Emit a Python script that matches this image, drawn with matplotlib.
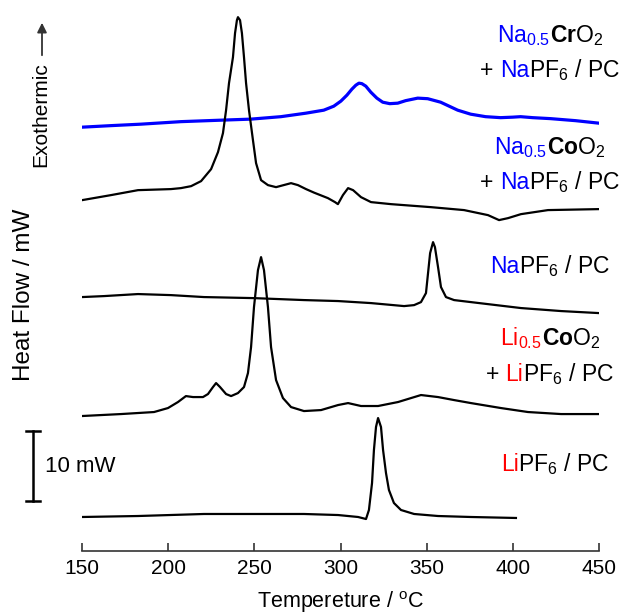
import matplotlib
matplotlib.use("Agg")
import matplotlib.pyplot as plt
from matplotlib.offsetbox import TextArea, HPacker, VPacker, AnnotationBbox

plt.rcParams['font.family'] = ['Liberation Sans', 'DejaVu Sans']
plt.rcParams['mathtext.fontset'] = 'custom'
plt.rcParams['mathtext.rm'] = 'Liberation Sans'
plt.rcParams['mathtext.bf'] = 'Liberation Sans:bold'
plt.rcParams['mathtext.it'] = 'Liberation Sans:italic'

BLUE = '#0000ff'
RED = '#ff0000'

# DSC curves (temperature / degC, heat flow / mW incl. vertical offset)
cr_temp = [150, 166.8, 184.2, 207.4, 230.6, 248.0, 265.4, 279.9, 290.3,
           296.1, 300.2, 303.7, 306.6, 308.9, 310.7, 312.4, 314.7, 317.6,
           321.1, 324.5, 328.6, 333.2, 337.8, 344.8, 350.6, 358.1, 368.0,
           375.5, 384.2, 392.9, 399.9, 404.5, 411.5, 421.9, 436.4, 450]
cr_flow = [60.14, 60.36, 60.57, 60.93, 61.14, 61.29, 61.64, 62.14, 62.57,
           63.14, 63.86, 64.71, 65.57, 66.14, 66.43, 66.36, 66.0, 65.14,
           64.29, 63.71, 63.5, 63.57, 63.93, 64.29, 64.21, 63.71, 62.57,
           62.0, 61.64, 61.5, 61.57, 61.64, 61.5, 61.36, 61.07, 60.71]

naco_temp = [150, 166.8, 182.5, 201.6, 207.4, 213.3, 219.1, 224.9, 228.9,
             231.8, 233.6, 235.3, 237.6, 238.8, 239.9, 240.5, 241.7, 242.8,
             244.0, 245.2, 246.9, 249.2, 251.0, 253.9, 257.9, 262.6, 271.3,
             275.3, 280.0, 284.6, 292.7, 296.8, 298.5, 301.4, 304.4, 307.3,
             311.9, 317.7, 329.3, 352.5, 371.7, 385.6, 392.0, 397.2, 404.7,
             420.4, 450]
naco_flow = [49.71, 50.43, 51.14, 51.29, 51.43, 51.71, 52.43, 54.14, 56.57,
             59.29, 62.57, 66.43, 70.14, 73.57, 75.43, 75.86, 75.43, 73.57,
             70.14, 66.43, 62.57, 58.29, 55.0, 52.57, 51.86, 51.57, 52.14,
             51.86, 51.29, 50.79, 50.0, 49.43, 49.14, 50.43, 51.43, 51.14,
             50.14, 49.43, 49.14, 48.71, 48.29, 47.57, 46.86, 47.14, 47.71,
             48.29, 48.43]

napf_temp = [150, 162.8, 182.5, 201.6, 220.8, 249.8, 278.8, 298.6, 317.7,
             336.9, 342.7, 346.7, 349.6, 350.8, 352.0, 353.7, 354.8, 356.6,
             358.3, 361.2, 365.9, 375.7, 404.7, 428.0, 450]
napf_flow = [35.86, 36.0, 36.29, 36.14, 35.86, 35.71, 35.43, 35.29, 35.0,
             34.57, 34.71, 35.14, 36.43, 39.29, 42.14, 43.71, 43.0, 40.14,
             37.29, 35.86, 35.43, 35.14, 34.29, 33.86, 33.57]

lico_temp = [150, 172.6, 191.8, 199.9, 205.7, 210.3, 214.4, 220.2, 223.1,
             226.0, 227.8, 230.1, 233.6, 236.5, 240.5, 244.0, 246.3, 248.1,
             249.8, 252.1, 253.9, 255.6, 257.9, 259.7, 262.6, 266.6, 271.3,
             278.8, 288.7, 298.6, 304.4, 311.9, 321.8, 333.4, 346.7, 356.6,
             365.9, 375.7, 393.1, 408.8, 428.0, 450]
lico_flow = [18.86, 19.14, 19.43, 20.0, 20.86, 21.71, 21.57, 21.57, 22.0,
             23.0, 23.57, 23.0, 22.0, 21.71, 22.14, 23.0, 25.0, 28.71,
             34.43, 39.71, 41.57, 39.71, 34.43, 28.71, 24.0, 21.43, 20.14,
             19.57, 19.71, 20.43, 20.71, 20.29, 20.29, 20.86, 21.86, 21.57,
             21.14, 20.71, 20.0, 19.43, 19.14, 19.14]

lipf_temp = [150, 182.5, 220.8, 249.8, 278.8, 298.6, 310.2, 314.8, 316.5,
             318.3, 319.4, 320.6, 321.8, 323.5, 324.7, 326.4, 328.1, 331.0,
             335.1, 342.7, 356.6, 375.7, 401.8]
lipf_flow = [4.43, 4.57, 4.86, 4.86, 4.86, 4.71, 4.43, 4.14, 5.43,
             9.29, 14.0, 17.29, 18.57, 17.29, 14.0, 10.71, 8.29, 6.43,
             5.43, 4.86, 4.57, 4.43, 4.29]

x_ticks = [150, 200, 250, 300, 350, 400, 450]

fig = plt.figure(figsize=(6.26, 6.16), dpi=100)
ax = fig.add_axes([82 / 626, 65 / 616, 517 / 626, 546 / 616])

ax.plot(cr_temp, cr_flow, color=BLUE, lw=2.3)
for t, f in [(naco_temp, naco_flow), (napf_temp, napf_flow),
             (lico_temp, lico_flow), (lipf_temp, lipf_flow)]:
    ax.plot(t, f, color='black', lw=1.6)

ax.set_xlim(150, 450)
ax.set_ylim(-0.43, 77.6)
for s in ['left', 'right', 'top']:
    ax.spines[s].set_visible(False)
ax.spines['bottom'].set_linewidth(1.2)
ax.spines['bottom'].set_color('#333333')
ax.set_yticks([])
ax.set_xticks(x_ticks)
ax.tick_params(axis='x', direction='in', length=6, width=1.2,
               color='#333333', labelsize=15, pad=6)
ax.set_xlabel('Tempereture / $^{\\mathrm{o}}$C', fontsize=15.5, labelpad=8)

fig.text(24 / 626, 1 - 295 / 616, 'Heat Flow / mW', rotation=90,
         fontsize=17.5, ha='center', va='center')
fig.text(41 / 626, 1 - 115 / 616, 'Exothermic', rotation=90,
         fontsize=15, ha='center', va='center')
ax.annotate('', xy=(42, 616 - 20), xytext=(42, 616 - 58),
            xycoords='figure pixels', textcoords='figure pixels',
            arrowprops=dict(arrowstyle='-|>', color='#333333', lw=1.3,
                            mutation_scale=14))

# 10 mW scale bar
tr = ax.get_yaxis_transform()
bx = (33 - 82) / 517
cw = 7 / 517
ax.plot([bx, bx], [6.7, 16.7], transform=tr, color='black', lw=1.8,
        clip_on=False)
for yy in [6.7, 16.7]:
    ax.plot([bx - cw, bx + cw], [yy, yy], transform=tr, color='black',
            lw=1.8, clip_on=False)
ax.text((45 - 82) / 517, 11.7, '10 mW', transform=tr, fontsize=16,
        ha='left', va='center')

FS = 16.5


def line(parts):
    kids = [TextArea(t, textprops=dict(color=c, fontsize=FS)) for t, c in parts]
    return HPacker(children=kids, align='baseline', pad=0, sep=0)


def label(lines, x, y):
    box = VPacker(children=[line(p) for p in lines], align='center',
                  pad=0, sep=7)
    ab = AnnotationBbox(box, (x, 616 - y), xycoords='figure pixels',
                        box_alignment=(0.5, 0.5), frameon=False)
    fig.add_artist(ab)


pf_pc = r'$\mathrm{PF}_6$ / PC'
na_pf = [('+ ', 'black'), ('Na', BLUE), (pf_pc, 'black')]
li_pf = [('+ ', 'black'), ('Li', RED), (pf_pc, 'black')]

label([[(r'$\mathrm{Na}_{0.5}$', BLUE), (r'$\mathbf{Cr}\mathrm{O}_2$', 'black')],
       na_pf], 550, 53)
label([[(r'$\mathrm{Na}_{0.5}$', BLUE), (r'$\mathbf{Co}\mathrm{O}_2$', 'black')],
       na_pf], 550, 165)
label([[('Na', BLUE), (pf_pc, 'black')]], 550, 266)
label([[(r'$\mathrm{Li}_{0.5}$', RED), (r'$\mathbf{Co}\mathrm{O}_2$', 'black')],
       li_pf], 550, 356)
label([[('Li', RED), (pf_pc, 'black')]], 555, 464)

fig.savefig('out.png', dpi=100)
